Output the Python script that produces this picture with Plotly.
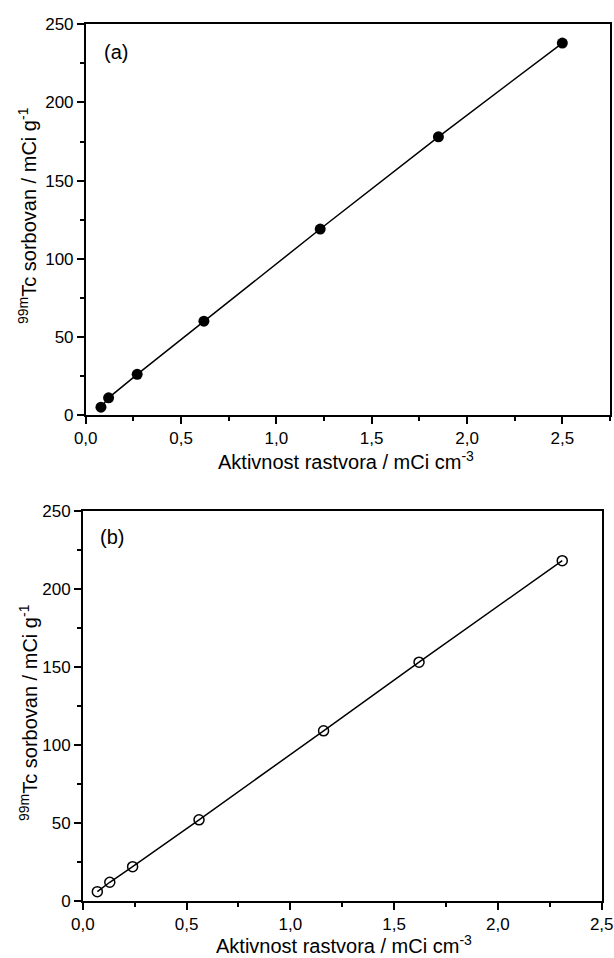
import plotly.graph_objects as go

# Panel (a)
xa = [0.08, 0.12, 0.27, 0.62, 1.23, 1.85, 2.50]
ya = [5, 11, 26, 60, 119, 178, 238]
# Panel (b)
xb = [0.07, 0.13, 0.24, 0.56, 1.16, 1.62, 2.31]
yb = [6, 12, 22, 52, 109, 153, 218]

x_title = "Aktivnost rastvora / mCi cm<sup>-3</sup>"
y_title = "<sup>99m</sup>Tc sorbovan / mCi g<sup>-1</sup>"
panel_labels = ["(a)", "(b)"]

W, H = 614, 958
FONT = "Arial, Liberation Sans, sans-serif"

fig = go.Figure()
fig.add_trace(go.Scatter(x=xa, y=ya, mode="lines+markers", xaxis="x", yaxis="y",
                         line=dict(color="black", width=1.5),
                         marker=dict(symbol="circle", size=11, color="black"),
                         showlegend=False))
fig.add_trace(go.Scatter(x=xb, y=yb, mode="lines+markers", xaxis="x2", yaxis="y2",
                         line=dict(color="black", width=1.5),
                         marker=dict(symbol="circle-open", size=10, color="black",
                                     line=dict(width=1.5, color="black")),
                         showlegend=False))

def px_x(p):
    return p / W

def px_y(p):
    return 1 - p / H

axis_common = dict(showline=True, linecolor="black", linewidth=1.5, mirror=True,
                   ticks="outside", ticklen=7, tickwidth=1.5, tickcolor="black",
                   showgrid=False, zeroline=False, automargin=False,
                   tickfont=dict(family=FONT, size=17, color="black"))
minor_x = dict(ticks="outside", ticklen=4, dtick=0.25, tickcolor="black", tickwidth=1.5, showgrid=False)
minor_y = dict(ticks="outside", ticklen=4, dtick=25, tickcolor="black", tickwidth=1.5, showgrid=False)

fig.update_layout(
    template="none",
    width=W, height=H, autosize=False,
    margin=dict(l=0, r=0, t=0, b=0, pad=0, autoexpand=False),
    paper_bgcolor="white", plot_bgcolor="white",
    separators=", ",
    showlegend=False,
    xaxis=dict(domain=[px_x(85.7), px_x(610)], range=[0, 2.75], dtick=0.5, tickformat=".1f",
               anchor="y", minor=minor_x, **axis_common),
    yaxis=dict(domain=[px_y(415), px_y(24.3)], range=[0, 250], dtick=50,
               anchor="x", minor=minor_y, **axis_common),
    xaxis2=dict(domain=[px_x(82.8), px_x(601.7)], range=[0, 2.5], dtick=0.5, tickformat=".1f",
                anchor="y2", minor=minor_x, **axis_common),
    yaxis2=dict(domain=[px_y(901), px_y(510.7)], range=[0, 250], dtick=50,
                anchor="x2", minor=minor_y, **axis_common),
)

tf = dict(family=FONT, size=20, color="black")
ann = []
# x titles
ann.append(dict(text=x_title, xref="paper", yref="paper", x=px_x(346), y=px_y(461),
                xanchor="center", yanchor="middle", showarrow=False, font=tf))
ann.append(dict(text=x_title, xref="paper", yref="paper", x=px_x(344), y=px_y(944),
                xanchor="center", yanchor="middle", showarrow=False, font=tf))
# y titles
ann.append(dict(text=y_title, xref="paper", yref="paper", x=px_x(28), y=px_y(216),
                xanchor="center", yanchor="middle", showarrow=False, font=tf, textangle=-90))
ann.append(dict(text=y_title, xref="paper", yref="paper", x=px_x(28), y=px_y(713),
                xanchor="center", yanchor="middle", showarrow=False, font=tf, textangle=-90))
# panel labels
ann.append(dict(text=panel_labels[0], xref="paper", yref="paper", x=px_x(102), y=px_y(52),
                xanchor="left", yanchor="middle", showarrow=False, font=tf))
ann.append(dict(text=panel_labels[1], xref="paper", yref="paper", x=px_x(98), y=px_y(537),
                xanchor="left", yanchor="middle", showarrow=False, font=tf))
fig.update_layout(annotations=ann)

fig.write_html("out.html",
               config={"displayModeBar": False},
               post_script="document.body.style.margin='0px';document.body.style.overflow='hidden';")
